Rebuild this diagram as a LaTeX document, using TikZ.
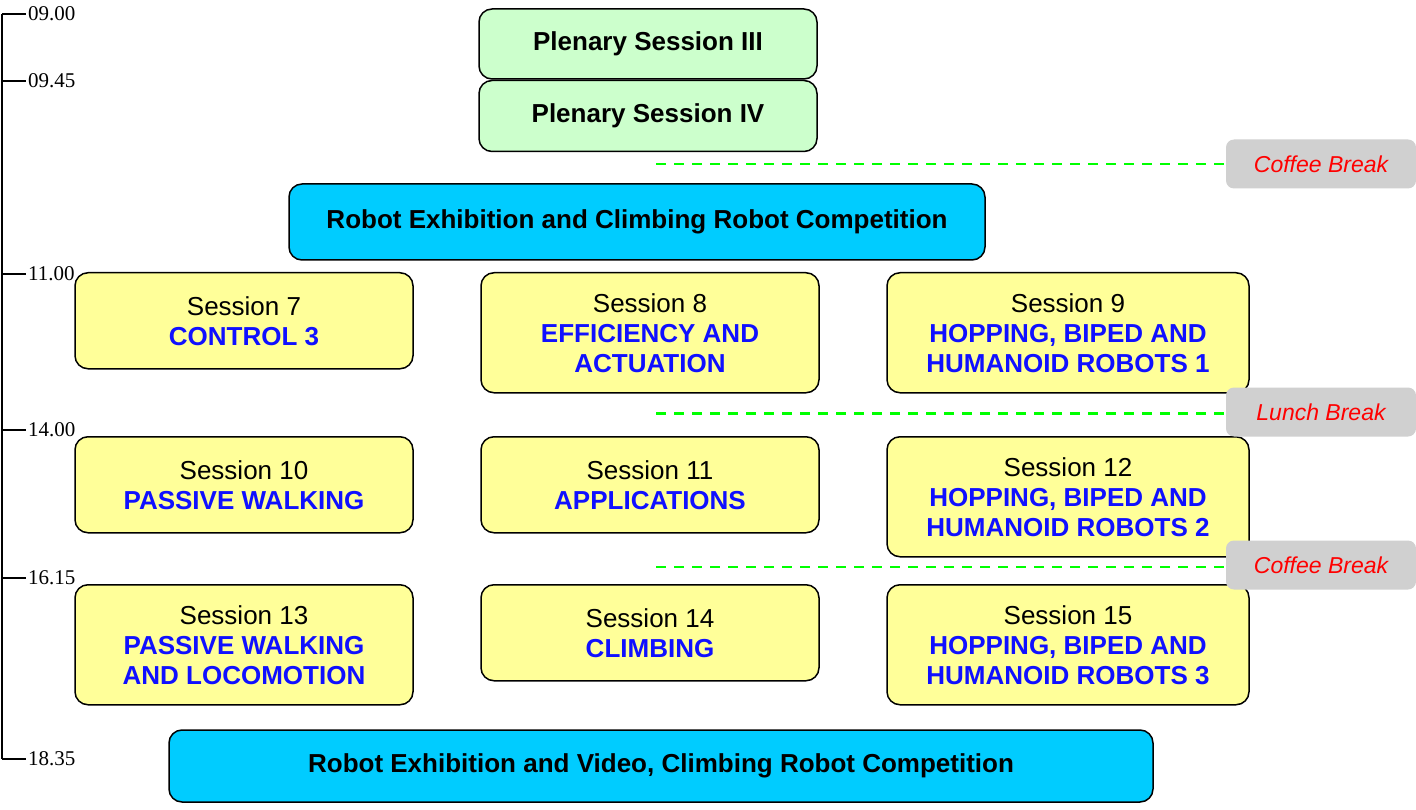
\documentclass[tikz,border=0pt]{standalone}
\usepackage{fontspec}
\setmainfont{Liberation Sans}
\newfontfamily\timesfont{Liberation Serif}
\usetikzlibrary{positioning}

\definecolor{plenarygreen}{HTML}{CCFFCC}
\definecolor{sessionyellow}{HTML}{FFFF99}
\definecolor{exhibitcyan}{HTML}{00CCFF}
\definecolor{breakgray}{HTML}{D0D0D0}
\definecolor{topicblue}{HTML}{1010FF}
\definecolor{breakgreen}{HTML}{00FF00}

\newcommand{\topic}[1]{{\color{topicblue}\bfseries #1}}

\begin{document}
\begin{tikzpicture}[x=1pt,y=-1pt,font=\fontsize{26}{30}\selectfont]
    \tikzstyle{box}=[draw,line width=1.5pt,rounded corners=13pt,inner sep=0pt,align=center]
    \tikzstyle{plenary}=[box,fill=plenarygreen,minimum width=338pt,font=\fontsize{26}{30}\selectfont\bfseries]
    \tikzstyle{exhibit}=[box,fill=exhibitcyan,font=\fontsize{26}{30}\selectfont\bfseries]
    \tikzstyle{session}=[box,fill=sessionyellow,anchor=north,minimum width=338pt]
    \tikzstyle{widesession}=[session,minimum width=362pt]
    \tikzstyle{breakbox}=[fill=breakgray,rounded corners=8pt,minimum width=190pt,minimum height=49pt,text=red,font=\fontsize{23}{26}\selectfont\itshape]
    \tikzstyle{coffeeline}=[breakgreen,line width=1.6pt,dash pattern=on 10pt off 8pt]
    \tikzstyle{lunchline}=[breakgreen,line width=3pt,dash pattern=on 10pt off 8pt]

    \useasboundingbox (0,0) rectangle (1416,810);

    % time line
    \draw[line width=1.5pt] (2,14) -- (2,759);
    \foreach \t/\y in {09.00/14,09.45/81,11.00/274,14.00/430,16.15/578,18.35/759}
    {
        \draw[line width=1.2pt] (2,\y) -- (26,\y);
        \node[anchor=west,inner sep=1pt,font=\timesfont\fontsize{21}{24}\selectfont] at (27,\y) {\t};
    }

    % morning
    \node[plenary,minimum height=70pt] (plenary3) at (648,44) {Plenary Session III};
    \node[plenary,minimum height=71pt] (plenary4) at (648,116) {Plenary Session IV};
    \node[exhibit,minimum width=696pt,minimum height=76pt] (exhibit1) at (637,222) {Robot Exhibition and Climbing Robot Competition};

    % sessions
    \node[session,minimum height=96pt] (s7) at (244,272) {Session 7\\\topic{CONTROL 3}};
    \node[session,minimum height=120pt] (s8) at (650,272) {Session 8\\\topic{EFFICIENCY AND}\\\topic{ACTUATION}};
    \node[widesession,minimum height=120pt] (s9) at (1068,272) {Session 9\\\topic{HOPPING, BIPED AND}\\\topic{HUMANOID ROBOTS 1}};

    \node[session,minimum height=96pt] (s10) at (244,436) {Session 10\\\topic{PASSIVE WALKING}};
    \node[session,minimum height=96pt] (s11) at (650,436) {Session 11\\\topic{APPLICATIONS}};
    \node[widesession,minimum height=120pt] (s12) at (1068,436) {Session 12\\\topic{HOPPING, BIPED AND}\\\topic{HUMANOID ROBOTS 2}};

    \node[session,minimum height=120pt] (s13) at (244,584) {Session 13\\\topic{PASSIVE WALKING}\\\topic{AND LOCOMOTION}};
    \node[session,minimum height=96pt] (s14) at (650,584) {Session 14\\\topic{CLIMBING}};
    \node[widesession,minimum height=120pt] (s15) at (1068,584) {Session 15\\\topic{HOPPING, BIPED AND}\\\topic{HUMANOID ROBOTS 3}};

    \node[exhibit,minimum width=984pt,minimum height=72pt] (exhibit2) at (661,766) {Robot Exhibition and Video, Climbing Robot Competition};

    % breaks
    \node[breakbox] (coffee1) at (1321,164) {Coffee Break};
    \node[breakbox] (lunch) at (1321,412) {Lunch Break};
    \node[breakbox] (coffee2) at (1321,565) {Coffee Break};

    \coordinate (c1) at (656,164);
    \coordinate (l1) at (656,413);
    \coordinate (c2) at (656,567);
    \draw[coffeeline] (c1) -- (coffee1.west);
    \draw[lunchline] (l1) -- (lunch.west |- l1);
    \draw[coffeeline] (c2) -- (coffee2.west |- c2);
\end{tikzpicture}
\end{document}
